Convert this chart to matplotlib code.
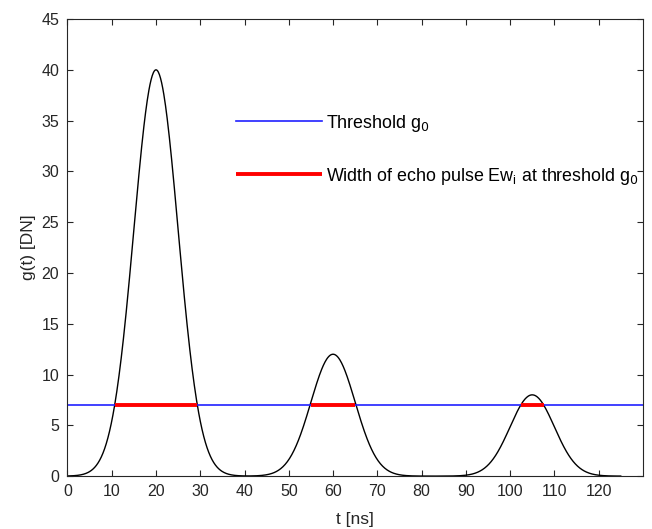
import numpy as np
import matplotlib.pyplot as plt

plt.rcParams['font.family'] = ['Liberation Sans', 'DejaVu Sans']

# echo pulses
peak_t = [20, 60, 105]
peak_amp = [40, 12, 8]
peak_sigma = [5, 5, 5]
t_end = 125

threshold = 7
# widths above threshold (start, end) in ns
width_start = [10.7, 55.1, 102.4]
width_end = [29.3, 65.0, 107.6]

x_ticks = list(range(0, 121, 10))
y_ticks = list(range(0, 46, 5))

t = np.linspace(0, t_end, 1000)
g = np.zeros_like(t)
for c, a, s in zip(peak_t, peak_amp, peak_sigma):
    g += a * np.exp(-(t - c) ** 2 / (2 * s ** 2))

fig = plt.figure(figsize=(6.52, 5.29), dpi=100)
ax = fig.add_axes([0.1035, 0.1, 0.8825, 0.864])

ax.plot(t, g, color='black', lw=1.0)
ax.axhline(threshold, color='#2020ff', lw=1.2, label='Threshold g$_0$')
for i, (a, b) in enumerate(zip(width_start, width_end)):
    ax.plot([a, b], [threshold, threshold], color='red', lw=2.8,
            solid_capstyle='butt',
            label='Width of echo pulse Ew$_\\mathregular{i}$ at threshold g$_0$' if i == 0 else None)

ax.set_xlim(0, 130)
ax.set_ylim(0, 45)
ax.set_xticks(x_ticks)
ax.set_yticks(y_ticks)
ax.tick_params(direction='in', top=True, right=True, length=4, labelsize=11.5,
               colors='#262626', pad=6)
for sp in ax.spines.values():
    sp.set_color('#262626')
ax.set_xlabel('t [ns]', fontsize=12.5, color='#262626', labelpad=9)
ax.set_ylabel('g(t) [DN]', fontsize=12.5, color='#262626', labelpad=4)

ax.legend(loc='upper left', bbox_to_anchor=(0.293, 0.795), frameon=False,
          handlelength=4.8, handletextpad=0.2, labelspacing=1.78,
          borderpad=0, borderaxespad=0, fontsize=12.9)

fig.savefig('out.png', dpi=100)
